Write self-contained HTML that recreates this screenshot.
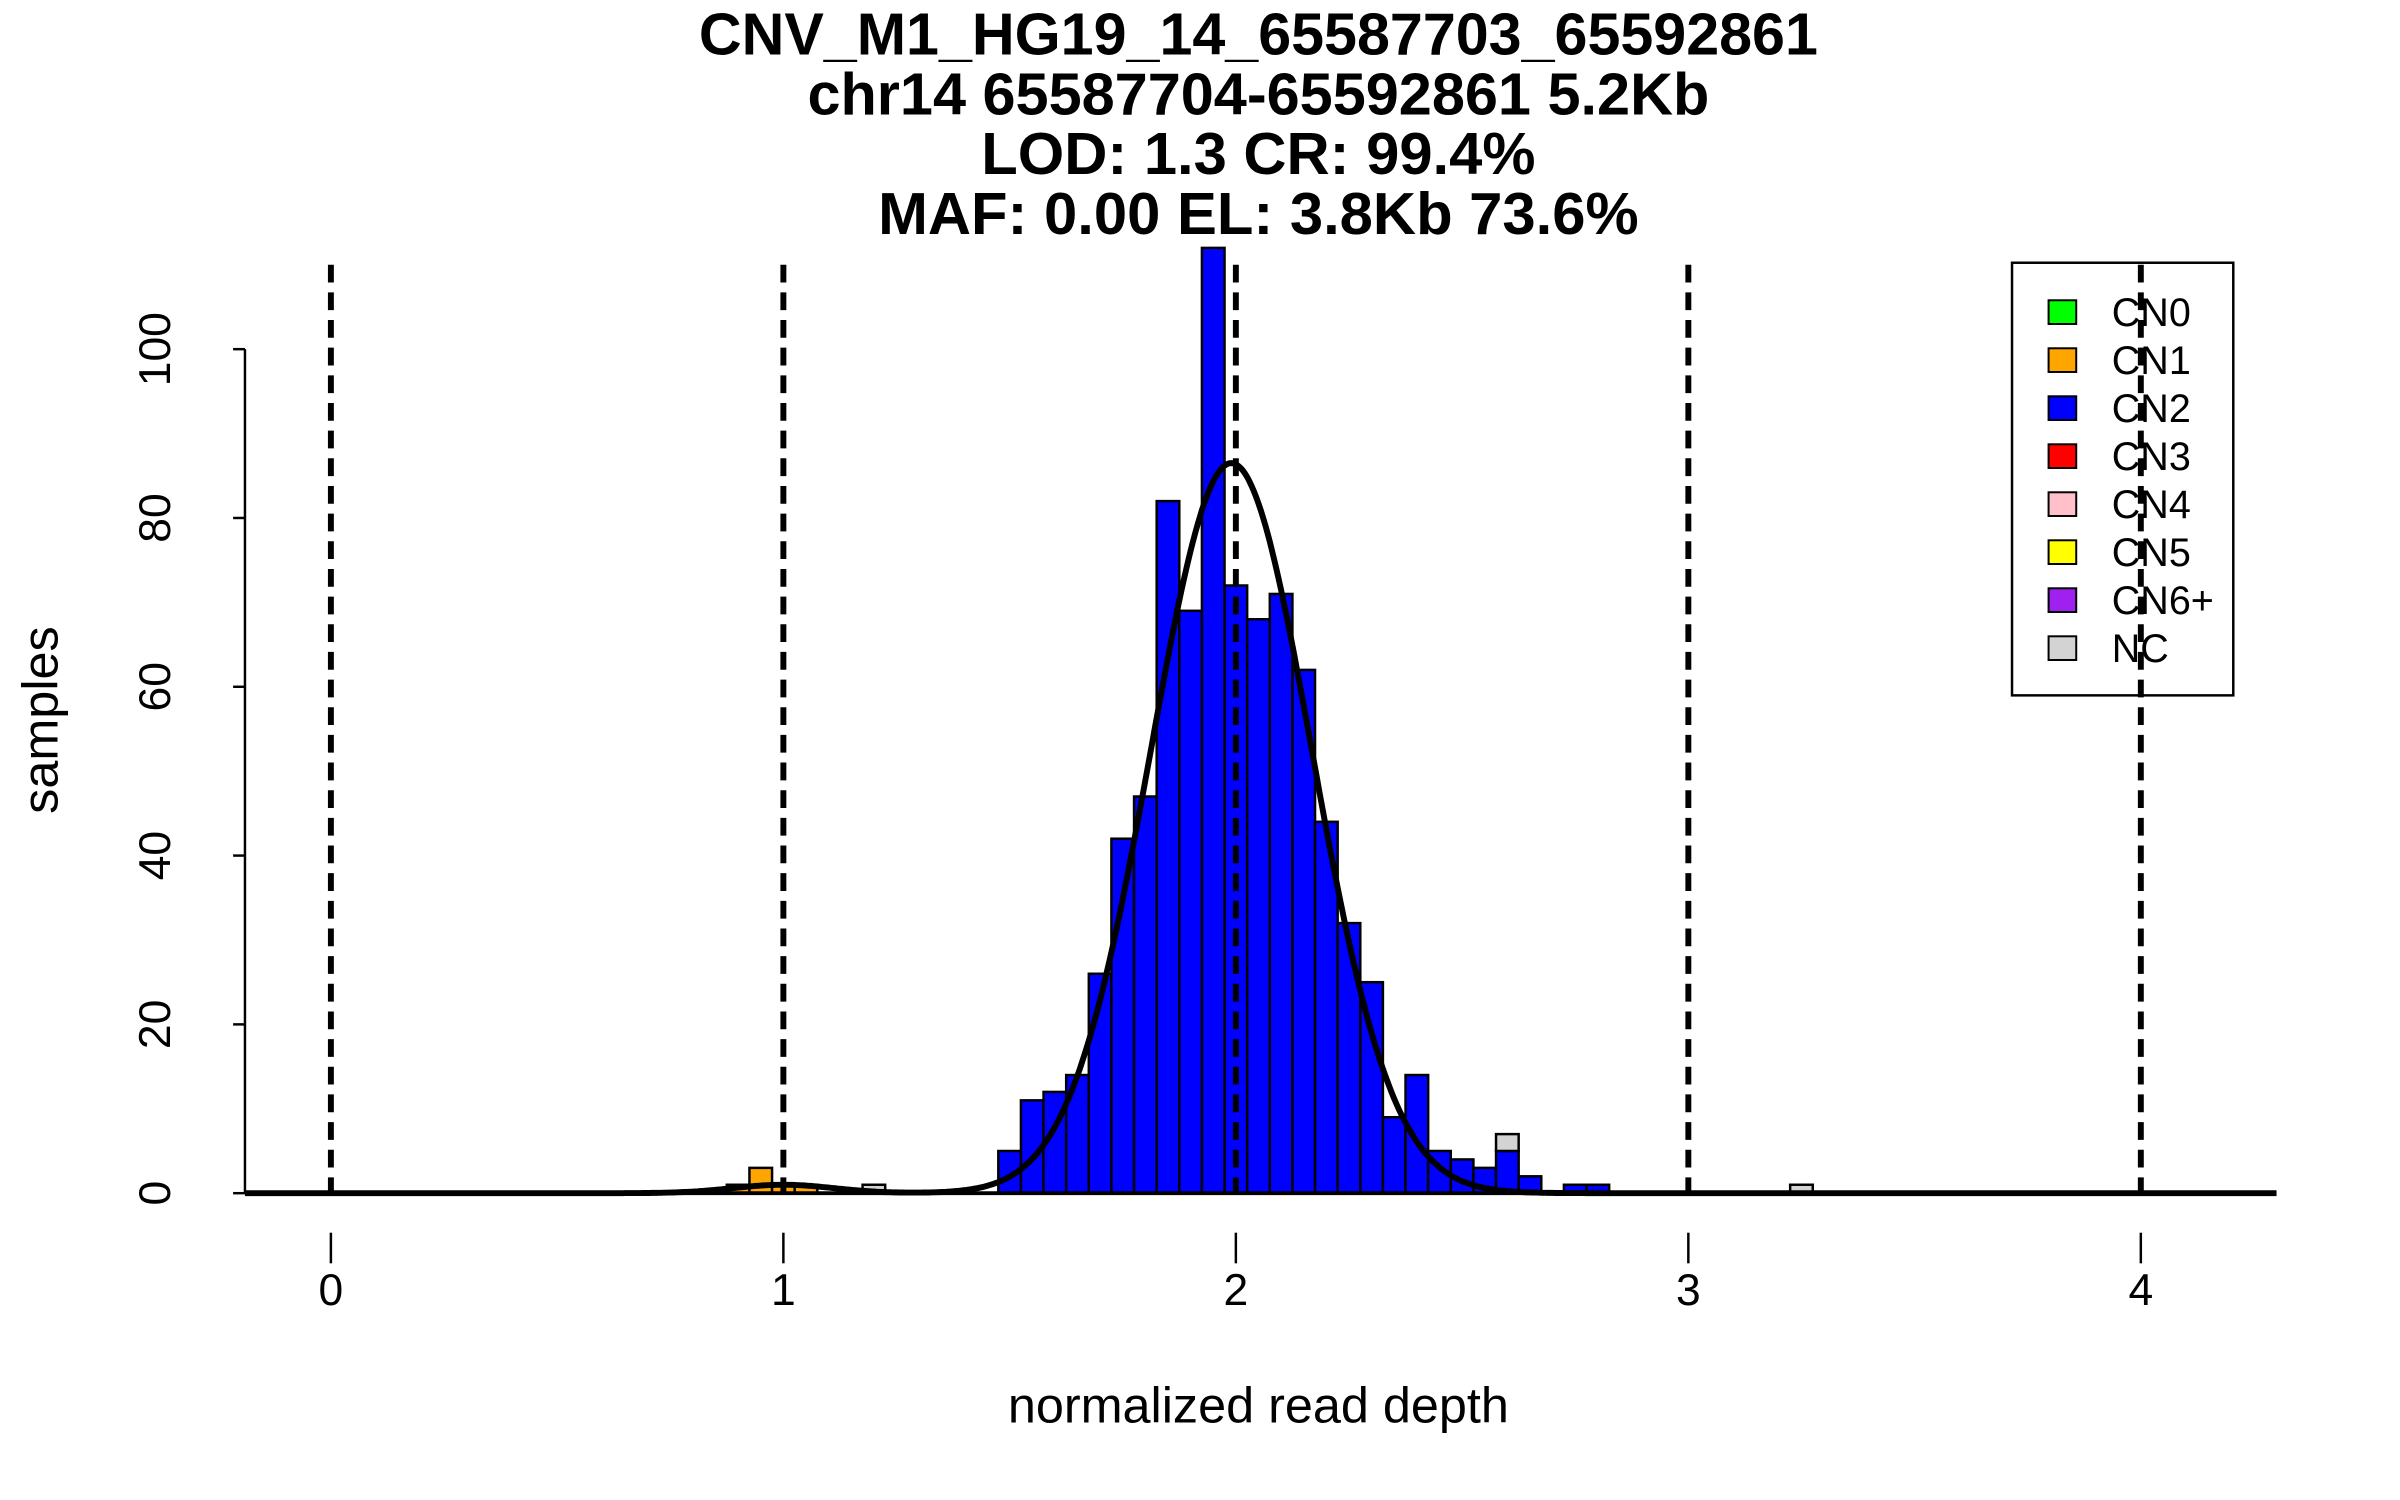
<!DOCTYPE html>
<html><head><meta charset="utf-8"><style>
html,body{margin:0;padding:0;background:#fff;}
svg{display:block;font-family:"Liberation Sans",Arial,sans-serif;}
</style></head><body>
<svg id="chart" width="2400" height="1500" viewBox="0 0 2400 1500" xmlns="http://www.w3.org/2000/svg">
<rect width="2400" height="1500" fill="#fff"/>
<g transform="scale(0.98774)">
<g font-family="'Liberation Sans Narrow','Liberation Sans',sans-serif" font-weight="bold" font-size="60" text-anchor="middle">
<text x="1274" y="55" textLength="1133" lengthAdjust="spacingAndGlyphs">CNV_M1_HG19_14_65587703_65592861</text>
<text x="1274" y="116" textLength="913" lengthAdjust="spacingAndGlyphs">chr14 65587704-65592861 5.2Kb</text>
<text x="1274" y="176" textLength="561" lengthAdjust="spacingAndGlyphs">LOD: 1.3 CR: 99.4%</text>
<text x="1274" y="237" textLength="770" lengthAdjust="spacingAndGlyphs">MAF: 0.00 EL: 3.8Kb 73.6%</text>
</g>
<g id="bars"></g>
<g id="axes"></g>
<g id="vlines"></g>
<path id="curve" fill="none" stroke="#000" stroke-width="6"/>
<text x="1274" y="1440" font-size="51" text-anchor="middle">normalized read depth</text>
<text x="0" y="0" font-size="51" text-anchor="middle" transform="translate(58,729) rotate(-90)">samples</text>
<g id="legend"></g>
</g>
</svg>
<script>
const xTicks = [0, 1, 2, 3, 4];
const yTicks = [0, 20, 40, 60, 80, 100];
const binWidth = 0.05;
const binStarts = [0.875,0.925,0.975,1.025,1.175,1.475,1.525,1.575,1.625,1.675,1.725,1.775,1.825,1.875,1.925,1.975,2.025,2.075,2.125,2.175,2.225,2.275,2.325,2.375,2.425,2.475,2.525,2.575,2.625,2.725,2.775,3.225];
const cn1Counts  = [1,3,1,1,0,0,0,0,0,0,0,0,0,0,0,0,0,0,0,0,0,0,0,0,0,0,0,0,0,0,0,0];
const cn2Counts  = [0,0,0,0,0,5,11,12,14,26,42,47,82,69,112,72,68,71,62,44,32,25,9,14,5,4,3,5,2,1,1,0];
const ncCounts   = [0,0,0,0,1,0,0,0,0,0,0,0,0,0,0,0,0,0,0,0,0,0,0,0,0,0,0,2,0,0,0,1];
const curveMeans = [1.0, 1.99];
const curveSds   = [0.11, 0.178];
const curvePeaks = [1.0, 86.5];
const legendLabels = ["CN0","CN1","CN2","CN3","CN4","CN5","CN6+","NC"];
const legendColors = ["#00ff00","#ffa500","#0000ff","#ff0000","#ffc0cb","#ffff00","#a020f0","#d3d3d3"];

const NS = "http://www.w3.org/2000/svg";
const X = v => 335 + v * 458.1;
const Y = c => 1208 - c * 8.545;
function mk(tag, attrs, parent) {
  const e = document.createElementNS(NS, tag);
  for (const k in attrs) e.setAttribute(k, attrs[k]);
  parent.appendChild(e);
  return e;
}
const bars = document.getElementById('bars');
binStarts.forEach((b, i) => {
  let base = 0;
  [[cn1Counts[i], '#ffa500', 'cn1'], [cn2Counts[i], '#0000ff', 'cn2'], [ncCounts[i], '#d3d3d3', 'nc']].forEach(([c, col, nm]) => {
    if (!c) return;
    const r = mk('rect', {x: X(b), y: Y(base + c), width: X(b + binWidth) - X(b), height: Y(base) - Y(base + c), fill: col, stroke: '#000', 'stroke-width': 2.5}, bars);
    
    
    base += c;
  });
});
const axes = document.getElementById('axes');
const yl = mk('line', {x1: 248, x2: 248, y1: Y(0), y2: Y(100), stroke: '#000', 'stroke-width': 2.5}, axes);


yTicks.forEach(t => {
  const l = mk('line', {x1: 236, x2: 248, y1: Y(t), y2: Y(t), stroke: '#000', 'stroke-width': 2.5}, axes);
  
  
  const tx = mk('text', {x: 0, y: 0, 'font-size': 45, 'text-anchor': 'middle', transform: 'translate(172,' + Y(t) + ') rotate(-90)'}, axes);
  tx.textContent = t;
  
  
});
const base = mk('line', {x1: 248, x2: 2302, y1: Y(0), y2: Y(0), stroke: '#000', 'stroke-width': 4}, axes);


xTicks.forEach(t => {
  const l = mk('line', {x1: X(t), x2: X(t), y1: 1248, y2: 1279, stroke: '#000', 'stroke-width': 2.5}, axes);
  
  
  const tx = mk('text', {x: X(t), y: 1321, 'font-size': 45, 'text-anchor': 'middle'}, axes);
  tx.textContent = t;
  
  
});
const vl = document.getElementById('vlines');
xTicks.forEach(t => {
  const l = mk('line', {x1: X(t), x2: X(t), y1: 268, y2: Y(0), stroke: '#000', 'stroke-width': 6, 'stroke-dasharray': '18 10'}, vl);
  
  
});
let d = '';
for (let v = -0.19; v <= 4.3; v += 0.005) {
  let c = 0;
  curveMeans.forEach((m, i) => { c += curvePeaks[i] * Math.exp(-0.5 * Math.pow((v - m) / curveSds[i], 2)); });
  d += (d ? 'L' : 'M') + X(v).toFixed(1) + ',' + Y(c).toFixed(1);
}
document.getElementById('curve').setAttribute('d', d);
const lg = document.getElementById('legend');
const box = mk('rect', {x: 2037, y: 266, width: 224, height: 438, fill: 'none', stroke: '#000', 'stroke-width': 2.5}, lg);


legendLabels.forEach((lab, i) => {
  const cy = 316 + i * 48.6;
  const s = mk('rect', {x: 2074, y: cy - 12, width: 28, height: 24, fill: legendColors[i], stroke: '#000', 'stroke-width': 2}, lg);
  
  
  const t = mk('text', {x: 2138, y: cy + 14, 'font-size': 40}, lg);
  t.textContent = lab;
  
  
});
</script>
</body></html>
